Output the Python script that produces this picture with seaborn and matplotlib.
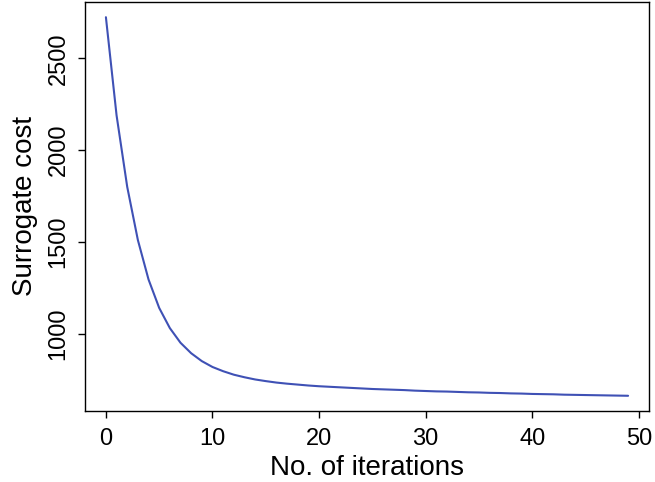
import numpy as np
import pandas as pd
import matplotlib
matplotlib.use('Agg')
import matplotlib.pyplot as plt
import seaborn as sns

# values
iterations = list(range(50))
cost = [2725, 2190, 1800, 1510, 1295, 1140, 1030, 950, 893, 850,
        818, 795, 776, 762, 750, 741, 733, 727, 722, 717,
        713, 710, 707, 704, 701, 698, 696, 694, 692, 689,
        687, 685, 684, 682, 680, 679, 677, 676, 674, 673,
        671, 670, 669, 667, 666, 665, 664, 663, 662, 661]
x_ticks = [0, 10, 20, 30, 40, 50]
y_ticks = [1000, 1500, 2000, 2500]

df = pd.DataFrame({'iter': iterations, 'cost': cost})

sns.set_style('ticks')
plt.rcParams['font.family'] = ['Liberation Sans', 'DejaVu Sans']
plt.rcParams['text.color'] = 'black'
plt.rcParams['axes.labelcolor'] = 'black'
plt.rcParams['xtick.color'] = 'black'
plt.rcParams['ytick.color'] = 'black'

fig = plt.figure(figsize=(6.55, 4.82), dpi=100)
ax = fig.add_axes([0.1298, 0.1473, 0.861, 0.8486])

sns.lineplot(data=df, x='iter', y='cost', ax=ax, color='#3f51b5', linewidth=1.5)

ax.set_xlim(-1.96, 50.96)
ax.set_ylim(578, 2808)
ax.set_xticks(x_ticks)
ax.set_yticks(y_ticks)
ax.set_xlabel('No. of iterations', fontsize=20, labelpad=4)
ax.set_ylabel('Surrogate cost', fontsize=20, labelpad=7)
ax.tick_params(axis='both', labelsize=17, length=5, width=1, pad=7)
ax.tick_params(axis='y', labelrotation=90, pad=6)
for lab in ax.get_yticklabels():
    lab.set_va('center')
for sp in ax.spines.values():
    sp.set_visible(True)
    sp.set_color('black')
    sp.set_linewidth(1)

fig.savefig('out.png', dpi=100)
